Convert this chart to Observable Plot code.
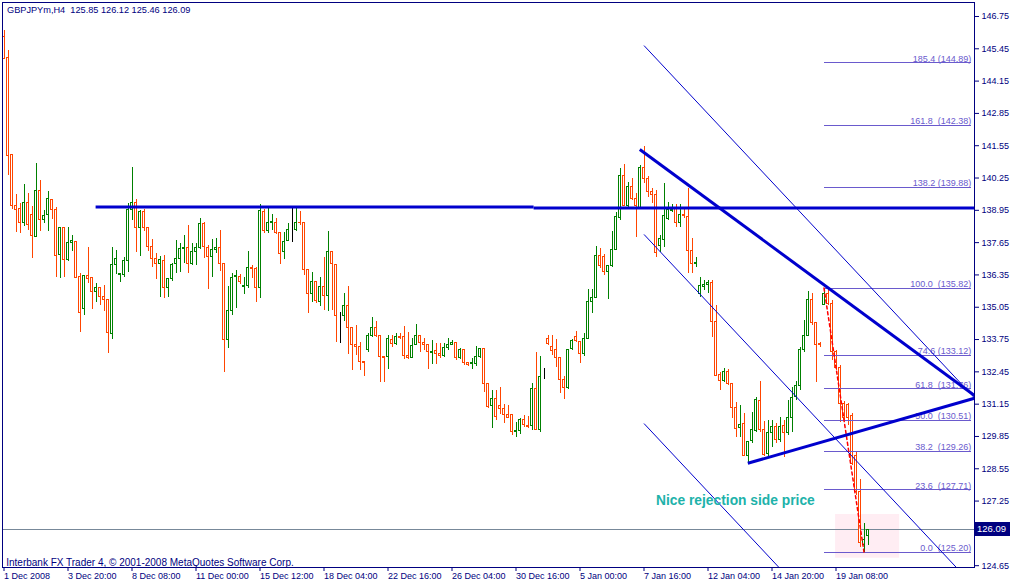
<!DOCTYPE html>
<html><head><meta charset="utf-8">
<script src="https://cdn.jsdelivr.net/npm/d3@7"></script>
<script src="https://cdn.jsdelivr.net/npm/@observablehq/plot@0.6"></script>
<style>
html,body{margin:0;padding:0;background:#fff;overflow:hidden;}
#chart svg{display:block;}
svg text{white-space:pre;}
</style></head><body><div id="chart"></div>
<script>
// GBPJPYm H4 candles (bar index 0 = 1 Dec 2008)
const opens = [145.91,145.06,141.16,139.14,139.02,138.46,139.23,138.78,137.86,139.71,138.58,138.78,139.37,138.98,137.17,138.24,136.97,137.62,137.66,136.25,134.96,136.29,136.21,135.68,135.81,135.48,135.36,133.99,136.73,136.33,136.33,136.93,138.98,139.23,138.22,138.90,138.22,137.49,137.01,136.77,136.93,135.81,136.17,136.77,137.01,137.41,137.45,136.81,137.29,137.45,138.38,137.45,137.09,137.37,137.45,136.77,133.75,134.88,136.25,136.25,135.85,135.89,136.61,136.57,135.81,138.90,138.10,138.42,138.46,138.02,137.29,137.70,138.14,138.14,138.46,138.42,136.53,135.60,136.05,135.28,135.85,135.52,137.29,136.73,134.64,134.68,135.12,134.23,133.55,133.47,132.85,133.31,133.91,134.23,133.91,133.03,133.03,133.75,133.59,133.87,133.87,133.07,132.99,133.55,133.91,133.63,133.55,133.19,133.27,133.15,133.07,133.39,133.55,133.63,132.99,133.31,132.79,132.75,132.75,133.03,133.37,131.98,131.06,131.34,131.06,130.94,130.73,130.73,130.01,130.05,130.53,130.29,130.29,131.74,130.13,132.26,133.79,133.47,133.31,132.99,132.14,131.82,133.35,133.87,133.67,133.15,133.79,135.28,135.44,137.13,137.09,136.45,136.69,137.37,138.66,140.35,139.14,139.87,139.39,139.06,140.67,140.23,139.67,139.55,137.53,137.74,138.62,138.94,139.06,138.46,138.78,138.70,137.33,136.81,135.60,135.85,135.93,136.01,134.44,132.34,132.10,132.46,131.98,130.98,130.21,130.37,129.08,129.65,130.05,131.26,130.13,129.16,129.97,130.25,129.69,130.29,129.97,130.61,131.42,131.90,133.31,133.91,135.36,134.40,133.59,135.16,135.60,135.20,133.23,132.62,131.14,131.10,130.69,129.08,127.60,125.50,125.85];
const highs = [146.19,145.38,141.20,139.59,139.23,139.99,139.63,139.10,140.84,140.15,138.94,139.71,139.39,139.06,138.26,138.26,138.26,137.94,137.70,136.41,136.31,137.45,136.23,136.01,135.83,135.93,135.38,137.45,137.33,136.41,137.05,139.23,140.67,139.39,138.94,138.98,138.24,137.78,137.21,137.09,137.13,136.21,136.81,137.74,137.62,137.94,138.34,137.62,137.62,138.62,138.46,137.53,137.78,137.82,138.14,136.81,135.89,136.41,136.53,136.37,136.25,137.29,136.73,136.63,139.18,138.98,139.06,138.78,138.62,138.04,138.06,138.42,139.06,139.06,138.90,138.44,136.55,136.45,136.07,136.25,137.05,138.10,137.31,136.75,134.84,135.60,135.89,134.25,134.32,133.63,132.87,133.99,134.64,134.48,133.93,133.03,133.91,133.91,133.99,133.99,134.27,134.03,133.79,134.36,133.93,133.79,133.57,133.71,133.59,133.59,133.59,133.79,133.71,133.65,133.39,133.33,132.79,132.99,133.47,133.39,133.39,132.00,131.70,131.70,131.82,131.14,131.10,130.75,130.41,130.57,130.69,130.65,131.98,133.23,133.07,132.59,133.91,133.91,133.75,132.99,132.26,133.35,133.75,134.07,133.69,133.99,135.76,135.76,137.49,137.41,137.17,136.73,138.10,138.86,140.63,140.80,140.07,140.23,139.63,140.75,141.52,140.31,139.83,139.75,137.94,140.03,139.26,139.18,139.18,139.18,139.06,139.83,137.82,137.05,136.25,136.13,136.13,136.13,135.12,132.42,132.59,132.55,132.00,131.22,131.10,130.77,129.65,130.81,131.42,132.06,130.45,130.49,130.49,130.37,130.61,130.49,131.30,131.82,132.06,133.43,134.52,135.68,135.60,134.40,133.63,135.82,135.76,135.32,133.31,132.70,131.26,131.18,130.77,129.24,128.12,126.35,126.12];
const lows = [145.00,140.35,138.98,138.06,138.02,138.30,138.14,137.01,137.84,138.10,138.42,138.10,138.58,136.25,136.21,136.25,136.89,137.29,136.19,134.03,134.72,136.01,134.96,135.24,135.12,134.88,133.19,133.75,136.37,136.05,136.25,136.45,138.54,137.25,137.09,138.10,137.29,136.65,136.17,135.44,135.40,135.44,136.09,136.41,136.45,136.81,136.41,136.73,136.73,137.37,137.01,135.76,136.25,137.21,136.49,132.42,133.39,134.72,135.00,135.97,135.56,135.81,136.21,135.24,135.40,138.02,138.02,138.14,137.98,136.77,136.97,137.68,137.66,138.10,138.34,136.33,134.80,135.24,135.20,135.08,134.92,134.88,134.92,133.63,133.59,134.48,133.15,132.51,133.11,132.51,132.26,133.23,133.83,133.83,132.02,132.02,132.54,133.43,133.51,133.75,132.95,132.95,132.97,133.51,133.23,133.31,132.54,132.75,132.75,132.99,133.03,133.31,133.51,132.91,132.95,132.71,132.66,132.54,132.66,132.99,131.62,130.98,130.17,130.49,130.73,130.37,130.57,129.89,129.81,129.93,130.21,130.17,130.09,130.09,130.01,132.14,133.51,133.11,132.62,131.58,131.34,131.74,133.31,133.63,132.79,133.07,133.75,134.80,135.40,136.61,136.33,135.36,136.65,137.33,138.54,139.10,139.06,139.35,137.86,139.02,140.03,139.47,139.23,137.05,137.25,137.45,138.54,138.86,138.26,138.26,138.62,136.41,136.41,136.65,135.44,135.72,135.60,133.83,132.26,131.70,132.02,131.90,130.57,129.81,129.81,129.06,128.80,129.57,130.01,130.01,129.06,129.06,129.41,129.57,129.61,129.00,129.89,130.01,131.30,131.70,133.23,133.87,134.32,132.02,133.43,135.12,135.12,132.91,132.51,130.41,130.49,130.29,128.68,127.47,125.38,125.20,125.46];
const closes = [145.02,141.12,139.14,138.98,138.46,139.23,138.34,137.90,139.71,138.58,138.74,139.39,138.98,137.13,138.22,136.97,137.62,137.70,136.21,134.80,136.29,136.17,135.68,135.81,135.48,135.36,134.03,136.73,137.01,136.37,136.93,138.98,139.23,138.22,138.90,138.22,137.49,137.01,136.81,136.97,135.81,136.17,136.73,137.01,137.41,137.45,136.81,137.29,137.45,138.38,137.49,137.09,137.37,137.45,136.77,133.75,134.88,136.21,136.29,136.05,135.89,136.61,136.57,135.81,138.94,138.10,138.42,138.50,138.02,137.21,137.66,138.14,138.14,138.46,138.42,136.53,135.60,136.05,135.32,135.85,135.52,137.29,136.77,134.68,134.64,135.12,134.23,133.55,133.47,132.83,132.79,133.91,134.23,133.91,133.03,132.99,133.79,133.59,133.87,133.83,133.07,132.99,133.51,133.91,133.63,133.55,133.23,133.23,133.15,133.07,133.39,133.55,133.63,132.99,133.31,132.79,132.71,132.79,133.03,133.35,131.98,131.02,131.34,130.65,130.94,130.73,130.61,130.01,130.05,130.53,130.33,130.25,131.78,130.13,132.26,132.26,133.59,133.27,132.99,132.14,131.82,133.33,133.71,133.71,133.15,133.79,135.28,135.44,137.13,136.69,136.45,136.69,137.37,138.70,140.35,139.14,139.87,139.39,139.14,140.67,140.23,139.67,139.55,137.25,137.78,138.74,138.98,138.98,138.46,138.78,138.74,137.33,136.81,136.85,135.89,135.93,136.01,134.44,132.30,132.10,132.46,131.98,130.98,130.17,130.33,129.08,129.63,130.09,131.30,130.13,129.12,129.97,130.25,129.69,130.25,129.97,130.61,131.38,131.90,133.31,133.91,135.36,134.40,133.55,133.55,135.60,135.20,133.23,132.62,131.14,130.61,130.61,128.76,127.60,125.58,125.70,126.09];

// axis ticks
const xTickIndex = [0,16,32,48,64,80,96,112,128,144,160,176,192,208];
const xTickLabels = ["1 Dec 2008","3 Dec 20:00","8 Dec 08:00","11 Dec 00:00","15 Dec 12:00","18 Dec 04:00","22 Dec 16:00","26 Dec 04:00","30 Dec 16:00","5 Jan 00:00","7 Jan 16:00","12 Jan 04:00","14 Jan 20:00","19 Jan 08:00"];
const yTickValues = [146.75,145.45,144.15,142.85,141.55,140.25,138.95,137.65,136.35,135.05,133.75,132.45,131.15,129.85,128.55,127.25,124.65];

// fibonacci object
const fibRatios = ["185.4 ","161.8  ","138.2 ","100.0  ","74.6 ","61.8  ","50.0  ","38.2  ","23.6  ","0.0  "];
const fibPrices = [144.89,142.38,139.88,135.82,133.12,131.76,130.51,129.26,127.71,125.20];
const fibSpan = [205, 241.8];
const fibDiagonal = [{x: 205, y: 135.82}, {x: 215, y: 125.20}];

// drawn objects (bar index, price)
const resistanceLines = [{x1: 22.9, y1: 139.08, x2: 132.4, y2: 139.08}, {x1: 132.4, y1: 139.04, x2: 242.63, y2: 139.04}];
const thickTrends = [{x1: 158.95, y1: 141.40, x2: 242.63, y2: 131.50}, {x1: 185.95, y1: 128.77, x2: 242.63, y2: 131.39}];
const channelLines = [{x1: 160, y1: 145.58, x2: 242.63, y2: 131.40}, {x1: 160, y1: 137.98, x2: 242.63, y2: 123.80}, {x1: 160, y1: 130.37, x2: 242.63, y2: 116.19}];
const zone = [{x1: 207.9, x2: 223.9, y1: 124.95, y2: 126.71}];
const bid = 126.09;
const note = {x: 163, y: 127.25, text: "Nice rejection side price"};
const title = "GBPJPYm,H4  125.85 126.12 125.46 126.09";
const copyright = "Interbank FX Trader 4, © 2001-2008 MetaQuotes Software Corp.";

const candles = opens.map((o, i) => ({i, o, h: highs[i], l: lows[i], c: closes[i]}));
const candleColor = d => d.c > d.o ? "#008000" : d.c < d.o ? "#FF4500" : "#000000";
const fibs = fibPrices.map((p, k) => ({p, label: fibRatios[k] + "(" + p.toFixed(2) + ")"}));

const NAVY = "#000080";
const FONT = "'Liberation Sans', Arial, sans-serif";
const chart = Plot.plot({
  width: 1010, height: 584,
  marginLeft: 2, marginRight: 36, marginTop: 2, marginBottom: 17,
  style: {fontFamily: FONT, fontSize: "9px", background: "#fff", color: NAVY},
  x: {domain: [-0.375, 242.625], axis: null},
  y: {domain: [124.577, 147.313], axis: null},
  color: {type: "identity"},
  marks: [
    Plot.rect(zone, {x1: "x1", x2: "x2", y1: "y1", y2: "y2", fill: "#FFEDF3"}),
    Plot.ruleY([bid], {stroke: "#778899", shapeRendering: "crispEdges"}),
    Plot.ruleX(candles, {x: "i", y1: "l", y2: "h", stroke: candleColor, shapeRendering: "crispEdges"}),
    Plot.rect(candles, {x1: d => d.i - 0.25, x2: d => d.i + 0.25, y1: d => Math.min(d.o, d.c), y2: d => Math.max(d.o, d.c), fill: "white", stroke: candleColor, shapeRendering: "crispEdges"}),
    Plot.link(fibs, {x1: fibSpan[0], x2: fibSpan[1], y1: "p", y2: "p", stroke: "#6A5ACD", shapeRendering: "crispEdges"}),
    Plot.text(fibs, {x: fibSpan[1], y: "p", text: "label", textAnchor: "end", lineAnchor: "bottom", dy: -1, fill: "#6A5ACD", fontSize: 9}),
    Plot.line(fibDiagonal, {x: "x", y: "y", stroke: "#FF0000", strokeWidth: 1.5, strokeDasharray: "3,3"}),
    Plot.link(channelLines, {x1: "x1", y1: "y1", x2: "x2", y2: "y2", stroke: "#0000CD", strokeWidth: 1, clip: true}),
    Plot.link(resistanceLines, {x1: "x1", y1: "y1", x2: "x2", y2: "y2", stroke: "#0000CD", strokeWidth: 3, clip: true}),
    Plot.link(thickTrends, {x1: "x1", y1: "y1", x2: "x2", y2: "y2", stroke: "#0000CD", strokeWidth: 3, clip: true}),
    Plot.text([note], {x: "x", y: "y", text: "text", textAnchor: "start", fill: "#20B2AA", fontWeight: "bold", fontSize: 13.8}),
    Plot.text([title], {frameAnchor: "top-left", dx: 4.5, dy: 3.5, fill: NAVY, fontSize: 9.2}),
    Plot.text([copyright], {frameAnchor: "bottom-left", dx: 3.7, dy: -2, fill: NAVY, fontSize: 10}),
    Plot.axisY(yTickValues, {anchor: "right", tickSize: 4, tickPadding: 3, tickFormat: d => d.toFixed(2), fill: NAVY, stroke: NAVY}),
    Plot.axisX(xTickIndex, {anchor: "bottom", tickSize: 4, tickPadding: 1, tickFormat: d => xTickLabels[xTickIndex.indexOf(d)], textAnchor: "start", fill: NAVY, stroke: NAVY}),
    Plot.frame({stroke: NAVY})
  ]
});

// current bid label on the price axis, placed with the chart's own y scale
const yb = chart.scale("y").apply(bid);
const svg = d3.select(chart);
const g = svg.append("g").attr("class", "bid-label");
g.append("rect").attr("x", 975).attr("y", Math.round(yb) - 7).attr("width", 35).attr("height", 14).attr("fill", NAVY);
g.append("text").attr("x", 1006).attr("y", yb).attr("dy", "0.32em").attr("text-anchor", "end")
  .attr("fill", "#ffffff").attr("font-family", FONT).attr("font-size", 9.5).text(bid.toFixed(2));
document.getElementById("chart").appendChild(chart);
</script>
</body></html>
